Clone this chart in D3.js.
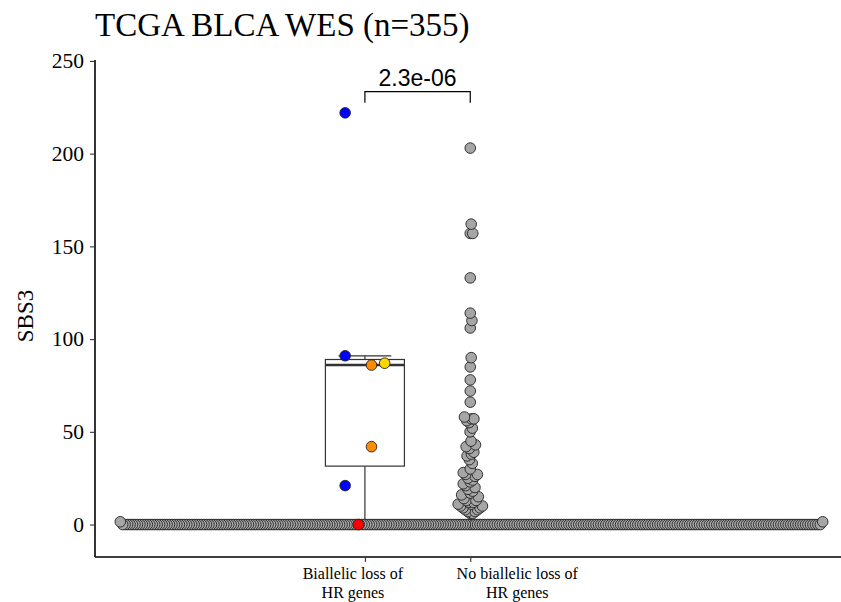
<!DOCTYPE html>
<html>
<head>
<meta charset="utf-8">
<script src="https://cdn.jsdelivr.net/npm/d3@7"></script>
<style>
	body { margin: 0; background: #fff; }
</style>
</head>
<body>
<div class="chart"></div>
<script>
// categories and values
var groups = ["Biallelic loss of\nHR genes", "No biallelic loss of\nHR genes"];

// biallelic group: value + colour of each sample
var biallelicValues = [222, 91, 87, 86, 42, 21, 0];
var biallelicColors = ["blue", "blue", "gold", "darkorange", "darkorange", "blue", "red"];
var colorOrder = ["blue", "red", "darkorange", "gold"];

// no-biallelic group: non-zero samples, plus how many sit at exactly 0
var noBiallelicValues = [203, 162, 157, 157, 133, 114, 110, 106, 90, 85, 78, 72, 66, 58, 57,
	57, 56, 55, 52, 50, 45, 43, 42, 41, 39, 38, 37, 35, 33, 30, 28, 27, 27, 26, 25, 24, 23,
	22, 21, 20, 19, 18, 17, 16, 15, 14, 13, 13, 12, 12, 11, 11, 10, 10, 9, 9, 8, 8, 7, 7,
	6, 6, 1.5, 1.5];
var noBiallelicZeroCount = 284;

var yTicks = [0, 50, 100, 150, 200, 250];
var pValue = "2.3e-06";
var title = "TCGA BLCA WES (n=355)";
var yLabel = "SBS3";

// dimensions
var width = 841, height = 602;
var panel = { left: 95, right: 848, top: 60, bottom: 557 };
var serif = "'Liberation Serif', 'Times New Roman', serif";
var sans = "'Liberation Sans', Arial, sans-serif";

var svg = d3.select(".chart").append("svg")
	.attr("width", width)
	.attr("height", height);

var y = d3.scaleLinear().domain([-17.5, 250.5]).range([panel.bottom, panel.top]);

// beeswarm (swarm method): place points in ascending order, closest free spot to centre
var swarmUnitX = 0.0234;   // horizontal collision size, in category units
var swarmUnitY = 10;       // vertical collision size, in px
function swarm(values) {
	var placed = [];
	values.slice().sort(d3.ascending).forEach(function (v) {
		var py = y(v);
		var near = placed.filter(function (p) { return Math.abs(p.py - py) < swarmUnitY; });
		var cands = [0];
		near.forEach(function (p) {
			var dy = (p.py - py) / swarmUnitY, dx = Math.sqrt(1 - dy * dy);
			cands.push(p.off + dx, p.off - dx);
		});
		cands.sort(function (a, b) { return Math.abs(a) - Math.abs(b); });
		var off = cands.find(function (c) {
			return near.every(function (p) {
				var dx = c - p.off, dy = (p.py - py) / swarmUnitY;
				return dx * dx + dy * dy >= 0.9999;
			});
		});
		placed.push({ value: v, py: py, off: off });
	});
	return placed;
}

var group2 = swarm(d3.range(noBiallelicZeroCount).map(function () { return 0; }).concat(noBiallelicValues));
group2.forEach(function (d) { d.cx = 2 + d.off * swarmUnitX; });

// x scale: categories 1,2 on a continuous axis widened by the swarm
var xExt = d3.extent(group2, function (d) { return d.cx; });
var xPad = 0.036 * (xExt[1] - xExt[0]);
var x = d3.scaleLinear().domain([xExt[0] - xPad, xExt[1] + xPad]).range([panel.left, panel.right]);

// dodge of the coloured points inside group 1
var dodge = d3.scaleBand().domain(colorOrder).range([-0.25, 0.25]);
var group1 = biallelicValues.map(function (v, i) {
	var c = biallelicColors[i];
	return { value: v, color: c, cx: 1 + dodge(c) + dodge.bandwidth() / 2 };
});

// boxplot stats for group 1
var sorted = biallelicValues.slice().sort(d3.ascending);
var q1 = d3.quantile(sorted, 0.25), med = d3.quantile(sorted, 0.5), q3 = d3.quantile(sorted, 0.75);
var iqr = q3 - q1;
var whiskLo = d3.min(sorted.filter(function (v) { return v >= q1 - 1.5 * iqr; }));
var whiskHi = d3.max(sorted.filter(function (v) { return v <= q3 + 1.5 * iqr; }));

// title
svg.append("text")
	.attr("x", panel.left)
	.attr("y", 36)
	.style("font-family", serif)
	.style("font-size", "33px")
	.text(title);

// axes
var yAxis = svg.append("g")
	.attr("transform", "translate(" + panel.left + ",0)")
	.call(d3.axisLeft(y).tickValues(yTicks).tickSize(5).tickPadding(6));
var xAxis = svg.append("g")
	.attr("transform", "translate(0," + panel.bottom + ")")
	.call(d3.axisBottom(x).tickValues([1, 2]).tickSize(5).tickFormat(""));

[yAxis, xAxis].forEach(function (a) {
	a.select(".domain").attr("stroke", "#000").attr("stroke-width", 1.6);
	a.selectAll(".tick line").attr("stroke", "#333").attr("stroke-width", 1.1);
});
yAxis.select(".domain").attr("d", "M0," + panel.top + "V" + panel.bottom);
xAxis.select(".domain").attr("d", "M" + panel.left + ",0H" + panel.right);
yAxis.selectAll(".tick text")
	.style("font-family", serif)
	.style("font-size", "21.5px")
	.attr("fill", "#000");

// x category labels (two lines); the blocks sit a bit off their ticks in the original
var labelShift = [-12, 47];
groups.forEach(function (g, i) {
	var cx = x(i + 1) + labelShift[i];
	g.split("\n").forEach(function (line, j) {
		svg.append("text")
			.attr("x", cx)
			.attr("y", panel.bottom + 22 + j * 18.5)
			.attr("text-anchor", "middle")
			.style("font-family", serif)
			.style("font-size", "16px")
			.text(line);
	});
});

// y title
svg.append("text")
	.attr("transform", "translate(33,316) rotate(-90)")
	.attr("text-anchor", "middle")
	.style("font-family", serif)
	.style("font-size", "23px")
	.text(yLabel);

// boxplot
var box = svg.append("g").attr("stroke", "#333").attr("fill", "none");
var bw = 0.375, cap = 0.25;
box.append("line").attr("x1", x(1)).attr("x2", x(1)).attr("y1", y(whiskLo)).attr("y2", y(q1)).attr("stroke-width", 1.2);
box.append("line").attr("x1", x(1)).attr("x2", x(1)).attr("y1", y(q3)).attr("y2", y(whiskHi)).attr("stroke-width", 1.2);
box.append("line").attr("x1", x(1 - cap)).attr("x2", x(1 + cap)).attr("y1", y(whiskHi)).attr("y2", y(whiskHi)).attr("stroke-width", 1.2);
box.append("line").attr("x1", x(1 - cap)).attr("x2", x(1 + cap)).attr("y1", y(whiskLo)).attr("y2", y(whiskLo)).attr("stroke-width", 1.2);
box.append("rect")
	.attr("x", x(1 - bw)).attr("width", x(1 + bw) - x(1 - bw))
	.attr("y", y(q3)).attr("height", y(q1) - y(q3))
	.attr("fill", "#fff").attr("stroke-width", 1.2);
box.append("line").attr("x1", x(1 - bw)).attr("x2", x(1 + bw)).attr("y1", y(med)).attr("y2", y(med)).attr("stroke-width", 2.4);

// points
var r = 5.3;
svg.append("g").selectAll("circle")
	.data(group2)
	.enter().append("circle")
	.attr("cx", function (d) { return x(d.cx); })
	.attr("cy", function (d) { return y(d.value); })
	.attr("r", r)
	.attr("fill", "#a6a6a6")
	.attr("stroke", "#222")
	.attr("stroke-width", 0.9);

svg.append("g").selectAll("circle")
	.data(group1)
	.enter().append("circle")
	.attr("cx", function (d) { return x(d.cx); })
	.attr("cy", function (d) { return y(d.value); })
	.attr("r", r)
	.attr("fill", function (d) { return d.color; })
	.attr("stroke", "#222")
	.attr("stroke-width", 0.9);

// significance bracket
var bracketY = 233.5, tipY = 227.5;
svg.append("path")
	.attr("d", "M" + x(1) + "," + y(tipY) + "V" + y(bracketY) + "H" + x(2) + "V" + y(tipY))
	.attr("fill", "none")
	.attr("stroke", "#000")
	.attr("stroke-width", 1.2);
svg.append("text")
	.attr("x", (x(1) + x(2)) / 2)
	.attr("y", y(bracketY) - 6)
	.attr("text-anchor", "middle")
	.style("font-family", sans)
	.style("font-size", "23px")
	.text(pValue);
</script>
</body>
</html>
